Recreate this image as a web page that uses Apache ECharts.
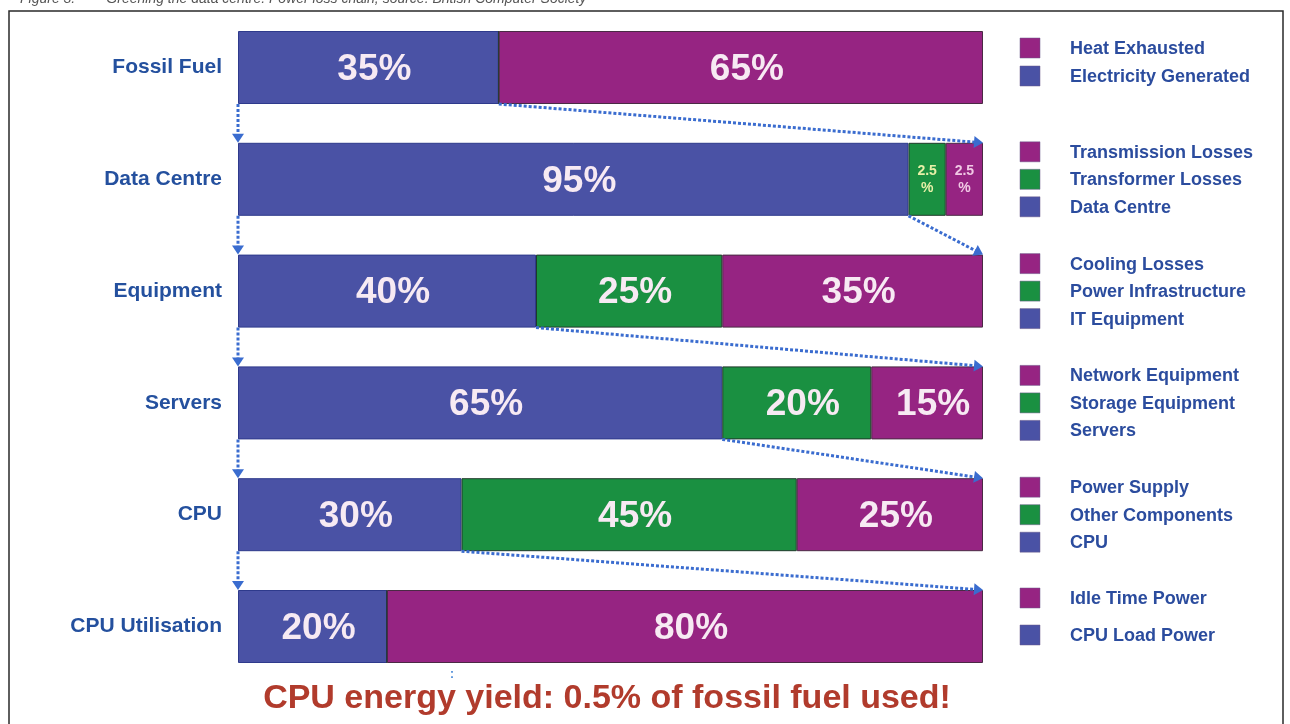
<!DOCTYPE html>
<html>
<head>
<meta charset="utf-8">
<script src="https://cdn.jsdelivr.net/npm/echarts@6/dist/echarts.min.js"></script>
<style>
  html, body { margin: 0; padding: 0; background: #fff; }
  #chart { width: 1290px; height: 724px; }
</style>
</head>
<body>
<div id="chart"></div>
<script>
// rows of the loss chain, top to bottom
const stages = ["Fossil Fuel", "Data Centre", "Equipment", "Servers", "CPU", "CPU Utilisation"];

// segment shares as drawn (Data Centre's 2.5% slivers are widened in the original)
const blueShare = [35, 90, 40, 65, 30, 20];
const greenShare = [0, 5, 25, 20, 45, 0];
const purpleShare = [65, 5, 35, 15, 25, 80];

// text printed in each segment
const blueText = ["35%", "95%", "40%", "65%", "30%", "20%"];
const greenText = ["", "2.5\n%", "25%", "20%", "45%", ""];
const purpleText = ["65%", "2.5\n%", "35%", "15%", "25%", "80%"];

// legend entries next to each row (purple, green, blue order)
const legendNames = [
  ["Heat Exhausted", "Electricity Generated"],
  ["Transmission Losses", "Transformer Losses", "Data Centre"],
  ["Cooling Losses", "Power Infrastructure", "IT Equipment"],
  ["Network Equipment", "Storage Equipment", "Servers"],
  ["Power Supply", "Other Components", "CPU"],
  ["Idle Time Power", "CPU Load Power"]
];
const legendColors = [
  ["purple", "blue"],
  ["purple", "green", "blue"],
  ["purple", "green", "blue"],
  ["purple", "green", "blue"],
  ["purple", "green", "blue"],
  ["purple", "blue"]
];

const footnote = "CPU energy yield: 0.5% of fossil fuel used!";

const COLORS = { blue: "#4a52a5", green: "#1a9041", purple: "#962482" };
const BAR_H = 73;
const FONT = "Liberation Sans, Arial, sans-serif";

const chart = echarts.init(document.getElementById("chart"));

function segLabel(texts) {
  return {
    show: true,
    position: "inside",
    offset: [6, 2],
    fontFamily: FONT,
    fontWeight: "bold",
    fontSize: 37,
    color: "#f7eaf3",
    formatter: (p) => texts[p.dataIndex]
  };
}

function seriesData(vals, texts, smallColor) {
  return vals.map((v, i) => {
    const item = { value: v };
    if (texts[i].indexOf("\n") >= 0) {
      item.label = { fontSize: 14, lineHeight: 17, offset: [0, 0], color: smallColor };
    }
    return item;
  });
}

const option = {
  backgroundColor: "#fff",
  animation: false,
  grid: { left: 238, right: 307, top: 11.6, bottom: 41.6 },
  xAxis: { type: "value", min: 0, max: 100, show: false },
  yAxis: {
    type: "category",
    inverse: true,
    data: stages,
    axisLine: { show: false },
    axisTick: { show: false },
    axisLabel: {
      margin: 16,
      fontFamily: FONT,
      fontWeight: "bold",
      fontSize: 21,
      color: "#24509e"
    }
  },
  series: [
    {
      type: "bar", stack: "chain", barWidth: BAR_H,
      itemStyle: { color: COLORS.blue, borderColor: "#2e3a8c", borderWidth: 1 },
      label: segLabel(blueText),
      data: seriesData(blueShare, blueText, "#f7eaf3")
    },
    {
      type: "bar", stack: "chain", barWidth: BAR_H,
      itemStyle: { color: COLORS.green, borderColor: "#1f3a2a", borderWidth: 1 },
      label: segLabel(greenText),
      data: seriesData(greenShare, greenText, "#e8f0a8")
    },
    {
      type: "bar", stack: "chain", barWidth: BAR_H,
      itemStyle: { color: COLORS.purple, borderColor: "#4a2a44", borderWidth: 1 },
      label: segLabel(purpleText),
      data: seriesData(purpleShare, purpleText, "#f0c8e4")
    },
    {
      // dotted arrows linking each row to the next
      type: "custom",
      encode: { x: 1, y: 0 },
      silent: true,
      z: 5,
      data: blueShare.slice(0, -1).map((b, i) => [i, b]),
      renderItem: function (params, api) {
        const row = api.value(0);
        const end = api.value(1);
        const a = api.coord([0, row]);
        const b = api.coord([end, row]);
        const r = api.coord([100, row + 1]);
        const bottom = a[1] + BAR_H / 2;
        const nextTop = r[1] - BAR_H / 2;
        const style = { stroke: "#3a6ccf", lineWidth: 3, lineDash: [3, 2], fill: null };
        const head = (x, y, ang) => {
          const s = 9, w = 6;
          const c = Math.cos(ang), sn = Math.sin(ang);
          return {
            type: "polygon",
            shape: { points: [[x, y], [x - s * c - w * sn, y - s * sn + w * c], [x - s * c + w * sn, y - s * sn - w * c]] },
            style: { fill: "#3a6ccf" }
          };
        };
        const ang = Math.atan2(nextTop - bottom, r[0] - b[0]);
        return {
          type: "group",
          children: [
            { type: "line", shape: { x1: a[0], y1: bottom, x2: a[0], y2: nextTop - 8 }, style: style },
            head(a[0], nextTop, Math.PI / 2),
            { type: "line", shape: { x1: b[0], y1: bottom, x2: r[0] - 8 * Math.cos(ang), y2: nextTop - 8 * Math.sin(ang) }, style: style },
            head(r[0], nextTop, ang)
          ]
        };
      }
    }
  ]
};

chart.setOption(option);

// legend blocks beside each bar plus frame, caption and footnote
const offsets3 = [-27.5, 0, 27.5];
const offsetsFirst = [-19.5, 8.5];
const offsetsLast = [-28.5, 8.5];
const graphics = [];
legendNames.forEach((names, i) => {
  const cy = chart.convertToPixel({ yAxisIndex: 0 }, i);
  const offs = names.length === 3 ? offsets3 : (i === 0 ? offsetsFirst : offsetsLast);
  names.forEach((n, k) => {
    const y = cy + offs[k];
    graphics.push({
      type: "rect",
      shape: { x: 1020, y: y - 10, width: 20, height: 20 },
      style: { fill: COLORS[legendColors[i][k]], stroke: "#6a5a8a", lineWidth: 0.5 }
    });
    graphics.push({
      type: "text",
      x: 1070, y: y + 1,
      style: {
        text: n, fontFamily: FONT, fontWeight: "bold", fontSize: 18,
        fill: "#2b4c9e", verticalAlign: "middle"
      }
    });
  });
});

graphics.push({
  type: "rect",
  shape: { x: 9, y: 11, width: 1274, height: 730 },
  style: { fill: null, stroke: "#2a2a2a", lineWidth: 1.5 }
});
graphics.push({
  type: "text", x: 20, y: 6,
  style: {
    text: "Figure 3:        Greening the data centre: Power loss chain; source: British Computer Society",
    fontFamily: FONT, fontStyle: "italic", fontSize: 14, fill: "#555", verticalAlign: "bottom"
  }
});
graphics.push({
  type: "text", x: 607, y: 699,
  style: {
    text: footnote, fontFamily: FONT, fontWeight: "bold", fontSize: 34,
    fill: "#b13b2c", align: "center", verticalAlign: "middle"
  }
});
graphics.push({
  type: "text", x: 452, y: 675,
  style: { text: ":", fontFamily: FONT, fontWeight: "bold", fontSize: 12, fill: "#4a8ad8", align: "center", verticalAlign: "middle" }
});

chart.setOption({ graphic: graphics });
</script>
</body>
</html>
